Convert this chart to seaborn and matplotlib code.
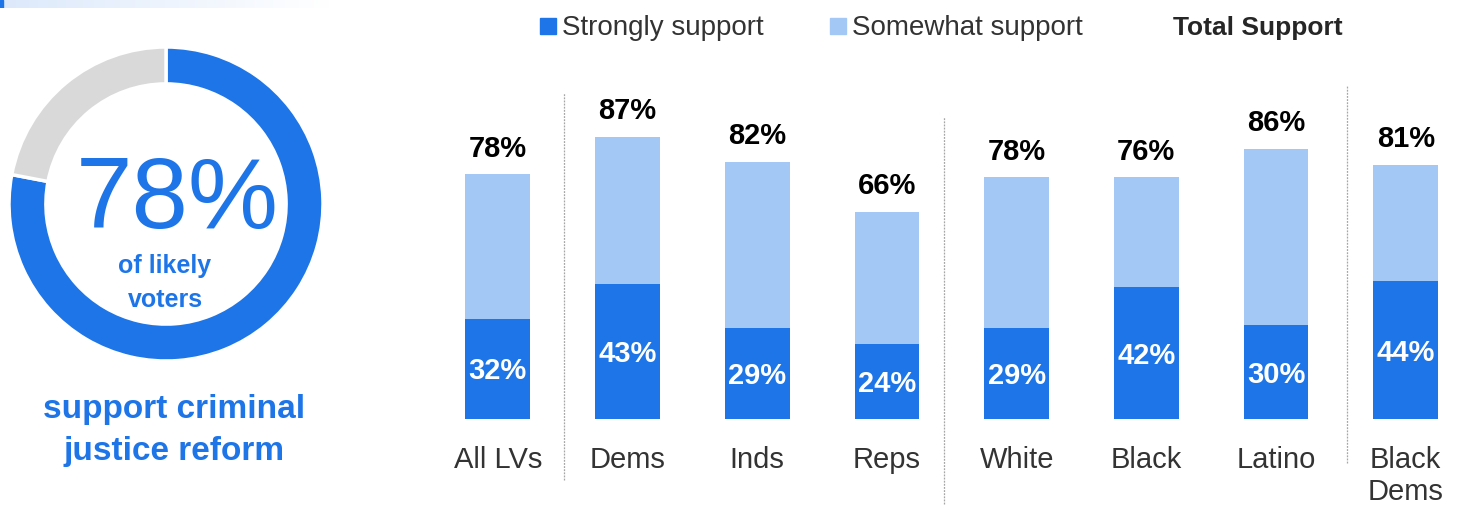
import matplotlib
matplotlib.use("Agg")
import numpy as np
import pandas as pd
import seaborn as sns
import matplotlib.pyplot as plt
from matplotlib.patches import Rectangle

# ---------------- data ----------------
categories = ["All LVs", "Dems", "Inds", "Reps", "White", "Black", "Latino", "Black\nDems"]
strongly = [32, 43, 29, 24, 29, 42, 30, 44]
somewhat = [46, 47, 53, 42, 48, 35, 56, 37]
total_support = [78, 87, 82, 66, 78, 76, 86, 81]
donut_values = [78, 22]
donut_labels = ["78%", "of likely\nvoters", "support criminal\njustice reform"]
legend_labels = ["Strongly support", "Somewhat support", "Total Support"]

# ---------------- style ----------------
DARK = "#1D75E8"
LIGHT = "#A4C8F5"
GREY = "#D9D9D9"
TXT = "#333333"

sns.set_theme(style="white")
plt.rcParams["font.family"] = ["Liberation Sans", "DejaVu Sans"]

W, H = 1458, 505
fig = plt.figure(figsize=(W / 100, H / 100), dpi=100)
fig.patch.set_facecolor("white")


def fx(px):
    return px / W


def fy(py):
    return 1 - py / H


# ---------------- top decorative gradient ----------------
gax = fig.add_axes([0, fy(8), 330 / W, 8 / H])
grad = np.linspace(0, 1, 256)
c0 = np.array([220, 233, 251]) / 255
c1 = np.array([1.0, 1.0, 1.0])
img = (c0[None, :] * (1 - grad[:, None]) + c1[None, :] * grad[:, None])[None, :, :]
gax.imshow(img, aspect="auto", extent=[0, 1, 0, 1])
gax.add_patch(Rectangle((0, 0), 3 / 330, 1, color=DARK))
gax.set_axis_off()

# ---------------- stacked bars ----------------
df = pd.DataFrame({"cat": categories, "strong": strongly, "somewhat": somewhat})
df["stack"] = df["strong"] + df["somewhat"]

ax = fig.add_axes([433 / W, (H - 419.3) / H, 1037.6 / W, 314.2 / H])
sns.barplot(data=df, x="cat", y="stack", color=LIGHT, width=0.5, saturation=1,
            linewidth=0, edgecolor="none", ax=ax)
sns.barplot(data=df, x="cat", y="strong", color=DARK, width=0.5, saturation=1,
            linewidth=0, edgecolor="none", ax=ax)
ax.set_xlim(-0.5, 7.5)
ax.set_ylim(0, 100)
ax.set_xlabel("")
ax.set_ylabel("")
ax.set_yticks([])
sns.despine(ax=ax, left=True, bottom=True)
ax.tick_params(axis="x", length=0, pad=19.5, labelsize=21, labelcolor=TXT)
for lab in ax.get_xticklabels():
    lab.set_linespacing(1.18)
ax.patch.set_alpha(0)

for i, (s, st, tot) in enumerate(zip(df["strong"], df["stack"], total_support)):
    ax.text(i, st + 5.6, f"{tot}%", ha="center", va="baseline",
            fontsize=21, fontweight="bold", color="black")
    ax.text(i, s / 2 - 3.3, f"{s}%", ha="center", va="baseline",
            fontsize=21, fontweight="bold", color="white")

# dashed group dividers
for xd, y0, y1 in [(0.51, -19.3, 103.9), (3.44, -27.0, 96.3), (6.55, -14.0, 106.4)]:
    ax.vlines(xd, y0, y1, colors="#A6A6A6", linewidth=0.9,
              linestyles=(0, (1.5, 1)), clip_on=False)

# ---------------- donut ----------------
dax = fig.add_axes([9 / W, (H - 361) / H, 314 / W, 314 / H])
dax.pie(donut_values, colors=[DARK, GREY], startangle=90, counterclock=False,
        radius=1, wedgeprops=dict(width=0.235, edgecolor="white", linewidth=2.5))
dax.set_xlim(-1, 1)
dax.set_ylim(-1, 1)

fig.text(fx(177), fy(228), donut_labels[0], ha="center", va="baseline",
         fontsize=73, color=DARK)
fig.text(fx(165), fy(307), donut_labels[1], ha="center", va="baseline",
         fontsize=18, fontweight="bold", color=DARK, linespacing=1.5)
fig.text(fx(174), fy(460), donut_labels[2], ha="center", va="baseline",
         fontsize=24, fontweight="bold", color=DARK, linespacing=1.45)

# ---------------- legend ----------------
fig.patches.append(Rectangle((fx(540), fy(34)), 16 / W, 16 / H,
                             transform=fig.transFigure, color=DARK))
fig.text(fx(562), fy(34.5), legend_labels[0], ha="left", va="baseline",
         fontsize=20, color=TXT)
fig.patches.append(Rectangle((fx(830), fy(34)), 16 / W, 16 / H,
                             transform=fig.transFigure, color=LIGHT))
fig.text(fx(852), fy(34.5), legend_labels[1], ha="left", va="baseline",
         fontsize=20, color=TXT)
fig.text(fx(1173), fy(34.5), legend_labels[2], ha="left", va="baseline",
         fontsize=19, fontweight="bold", color="#262626")

fig.savefig("out.png", dpi=100, facecolor="white")
